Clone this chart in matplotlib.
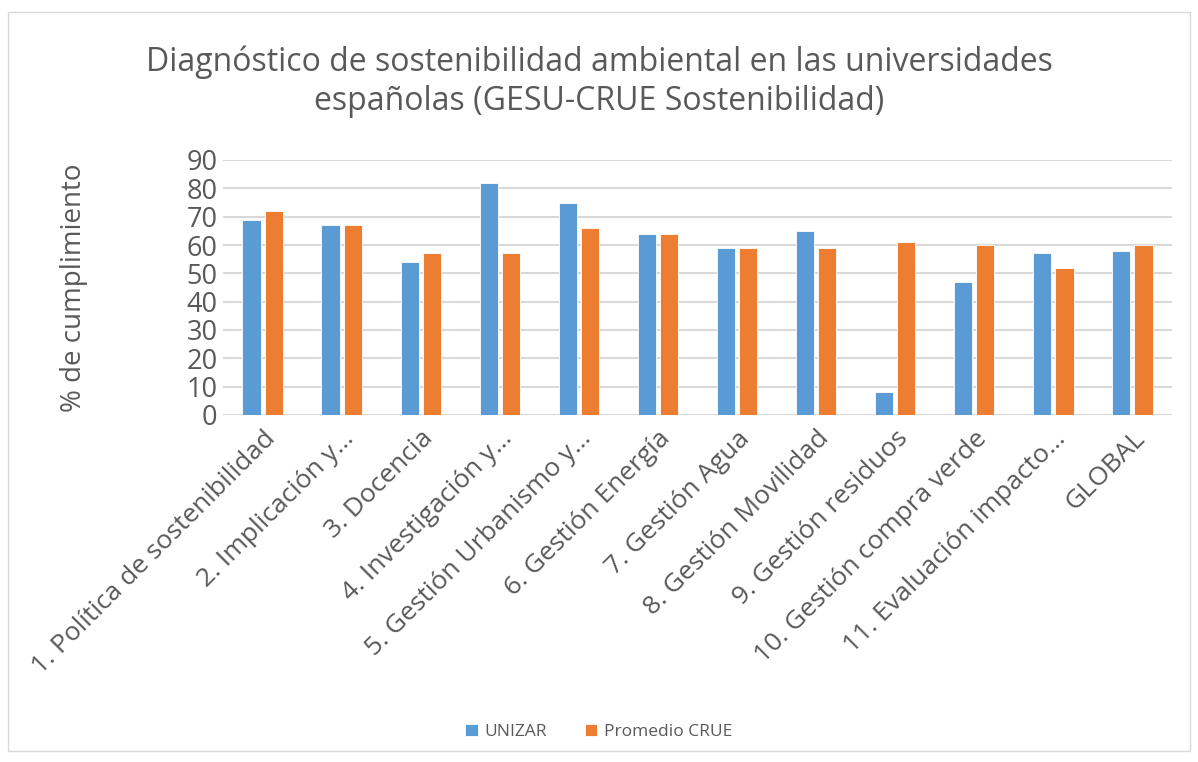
import matplotlib

matplotlib.use("Agg")
import matplotlib.pyplot as plt
import numpy as np
from matplotlib.patches import Rectangle

categories = [
    "1. Política de sostenibilidad",
    "2. Implicación y…",
    "3. Docencia",
    "4. Investigación y…",
    "5. Gestión Urbanismo y…",
    "6. Gestión Energía",
    "7. Gestión Agua",
    "8. Gestión Movilidad",
    "9. Gestión residuos",
    "10. Gestión compra verde",
    "11. Evaluación impacto…",
    "GLOBAL",
]
unizar = [69, 67, 54, 82, 75, 64, 59, 65, 8, 47, 57, 58]
crue = [72, 67, 57, 57, 66, 64, 59, 59, 61, 60, 52, 60]
yticks = list(range(0, 100, 10))

plt.rcParams["font.family"] = ["Open Sans", "DejaVu Sans"]
text_color = "#595959"

fig = plt.figure(figsize=(11.98, 7.62), dpi=100)
ax = fig.add_axes([223 / 1198, 1 - 415 / 762, (1172 - 223) / 1198, (415 - 160) / 762])

x = np.arange(len(categories))
w = 0.23
ax.bar(x - w / 2 - 0.025, unizar, w, color="#5B9BD5", edgecolor="white", linewidth=0.6, label="UNIZAR", zorder=3)
ax.bar(x + w / 2 + 0.025, crue, w, color="#ED7D31", edgecolor="white", linewidth=0.6, label="Promedio CRUE", zorder=3)

ax.set_xlim(-0.5, len(categories) - 0.5)
ax.set_ylim(0, 90)
ax.set_yticks(yticks)
ax.set_yticklabels([str(v) for v in yticks], fontsize=19.5, color=text_color)
ax.yaxis.grid(True, color="#D9D9D9", linewidth=1.5, zorder=0)
ax.tick_params(axis="y", length=0, pad=4)
ax.tick_params(axis="x", length=0, pad=8)
for s in ax.spines.values():
    s.set_visible(False)
ax.axhline(0, color="#D9D9D9", linewidth=1.5, zorder=1)

ax.set_xticks(x)
ax.set_xticklabels(categories, rotation=45, ha="right", rotation_mode="anchor",
                   fontsize=19, color=text_color)

ax.set_ylabel("% de cumplimiento", fontsize=20, color=text_color)
ax.yaxis.set_label_coords(-135 / 949, 0.5)
fig.text(0.5, 1 - 82 / 762, "Diagnóstico de sostenibilidad ambiental en las universidades\nespañolas (GESU-CRUE Sostenibilidad)",
         ha="center", va="center", fontsize=23, color=text_color, linespacing=1.25)

fig.legend(loc="center", bbox_to_anchor=(0.5, 1 - 732 / 762), ncol=2, frameon=False,
           fontsize=12.5, handlelength=0.7, handleheight=0.7, handletextpad=0.4, columnspacing=2.2,
           labelcolor=text_color)

fig.patches.append(Rectangle((8 / 1198, 0.015), 1 - 16 / 1198, 1 - 12 / 762 - 0.015, transform=fig.transFigure,
                             fill=False, edgecolor="#D9D9D9", linewidth=1))

fig.savefig("out.png", dpi=100)
